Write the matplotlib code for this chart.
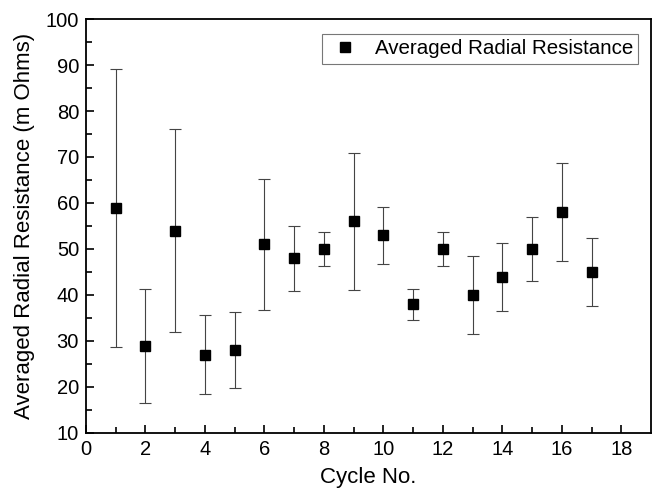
import matplotlib as mpl
import matplotlib.pyplot as plt

mpl.rcParams.update({
    "font.family": ["Liberation Sans", "DejaVu Sans"],
    "font.size": 14,
})

cycles = [1, 2, 3, 4, 5, 6, 7, 8, 9, 10, 11, 12, 13, 14, 15, 16, 17]
resistance = [59, 29, 54, 27, 28, 51, 48, 50, 56, 53, 38, 50, 40, 44, 50, 58, 45]
errors = [30.2, 12.4, 22.0, 8.6, 8.3, 14.3, 7.1, 3.7, 14.9, 6.2, 3.4, 3.7, 8.4, 7.4, 6.9, 10.6, 7.3]

fig = plt.figure(figsize=(6.55, 4.95), dpi=100)
ax = fig.add_axes([0.1313, 0.1253, 0.8626, 0.8363])

ax.errorbar(
    cycles, resistance, yerr=errors,
    fmt="none", ecolor="#444444", elinewidth=0.8, capsize=4, capthick=0.8,
)
ax.plot(cycles, resistance, "s", color="black", markersize=6.8,
        label="Averaged Radial Resistance")

ax.set_xlim(0, 19)
ax.set_ylim(10, 100)
ax.set_xticks(range(0, 19, 2))
ax.set_xticks(range(1, 19, 2), minor=True)
ax.set_yticks(range(10, 101, 10))
ax.set_yticks(range(15, 100, 10), minor=True)
ax.tick_params(direction="in", which="major", length=6, width=1.2, labelsize=14.5, pad=5)
ax.tick_params(direction="in", which="minor", length=4, width=1.2)
for s in ax.spines.values():
    s.set_linewidth(1.3)

ax.set_xlabel("Cycle No.", fontsize=16, labelpad=6)
ax.set_ylabel("Averaged Radial Resistance (m Ohms)", fontsize=16, labelpad=8)

leg = ax.legend(loc="upper right", fontsize=14.8, frameon=True, fancybox=False,
                edgecolor="#555555", borderpad=0.25, handletextpad=0.6,
                handlelength=1.7, borderaxespad=0,
                bbox_to_anchor=(0.977, 0.963), numpoints=1)
leg.get_frame().set_linewidth(0.8)

fig.savefig("out.png", dpi=100)
